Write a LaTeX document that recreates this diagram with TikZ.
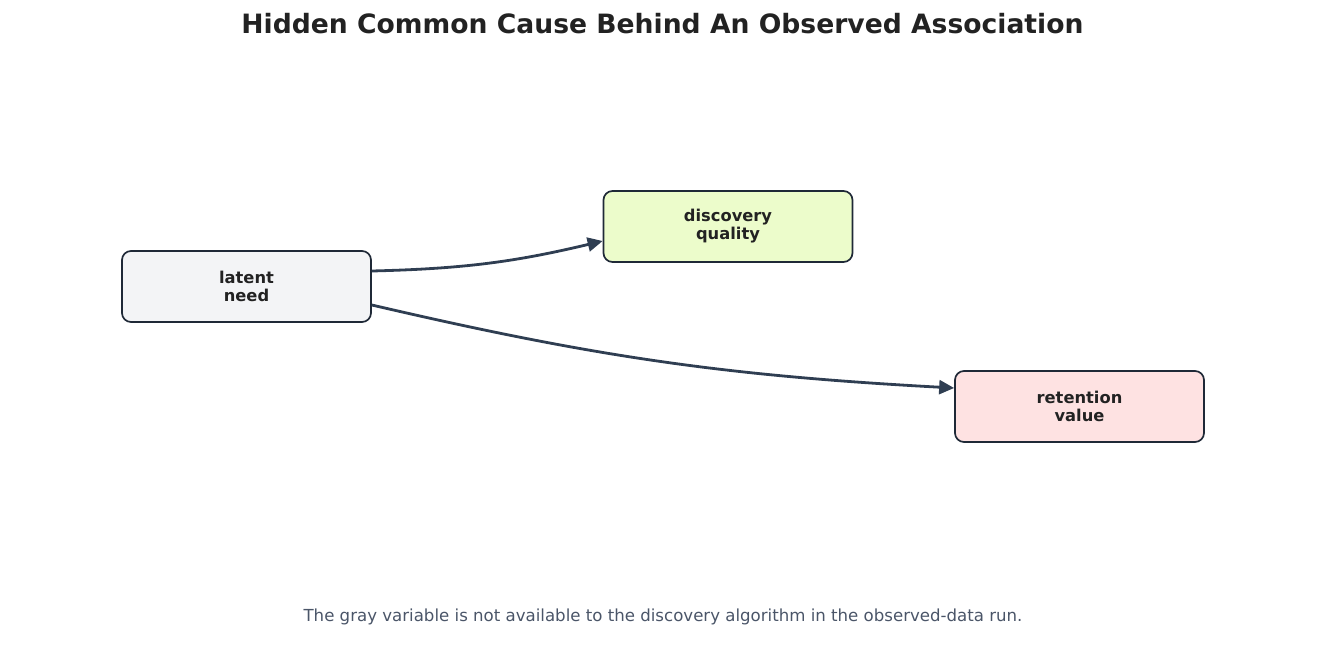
\documentclass[tikz,border=0pt]{standalone}
\usepackage{fontspec}
\setmainfont{DejaVu Sans}
\usetikzlibrary{arrows.meta}
\definecolor{edgec}{HTML}{2F3E52}
\definecolor{borderc}{HTML}{1F2937}
\definecolor{textc}{HTML}{222222}
\definecolor{footc}{HTML}{4A5568}
\definecolor{grayfill}{HTML}{F3F4F6}
\definecolor{greenfill}{HTML}{ECFCCB}
\definecolor{redfill}{HTML}{FEE2E2}
\tikzset{
  varbox/.style={draw=borderc, line width=1.7pt, rounded corners=9pt, minimum width=249pt, minimum height=71pt, align=center, inner sep=0pt, font=\fontsize{16.3}{18}\selectfont\bfseries, text=textc},
  edge/.style={draw=edgec, line width=2.8pt, -{Stealth[length=15pt,width=14pt,inset=0pt]}},
}
\begin{document}
\begin{tikzpicture}[x=1pt,y=1pt]
\useasboundingbox (0,0) rectangle (1325,-671);
\node[font=\fontsize{26.6}{30}\selectfont\bfseries, text=textc] (title) at (662.5,-24) {Hidden Common Cause Behind An Observed Association};
\node[varbox, fill=grayfill] (lat) at (246.5,-286.5) {latent\\need};
\node[varbox, fill=greenfill] (disc) at (728,-226.5) {discovery\\quality};
\node[varbox, fill=redfill] (ret) at (1079.5,-406.5) {retention\\value};
\draw[edge] ([yshift=15.5pt]lat.east) to[bend right=6] ([yshift=-14.5pt]disc.west);
\draw[edge] ([yshift=-18.5pt]lat.east) to[bend right=5] ([yshift=18.5pt]ret.west);
\node[font=\fontsize{16.6}{19}\selectfont, text=footc] (foot) at (663,-617) {The gray variable is not available to the discovery algorithm in the observed-data run.};
\end{tikzpicture}
\end{document}
